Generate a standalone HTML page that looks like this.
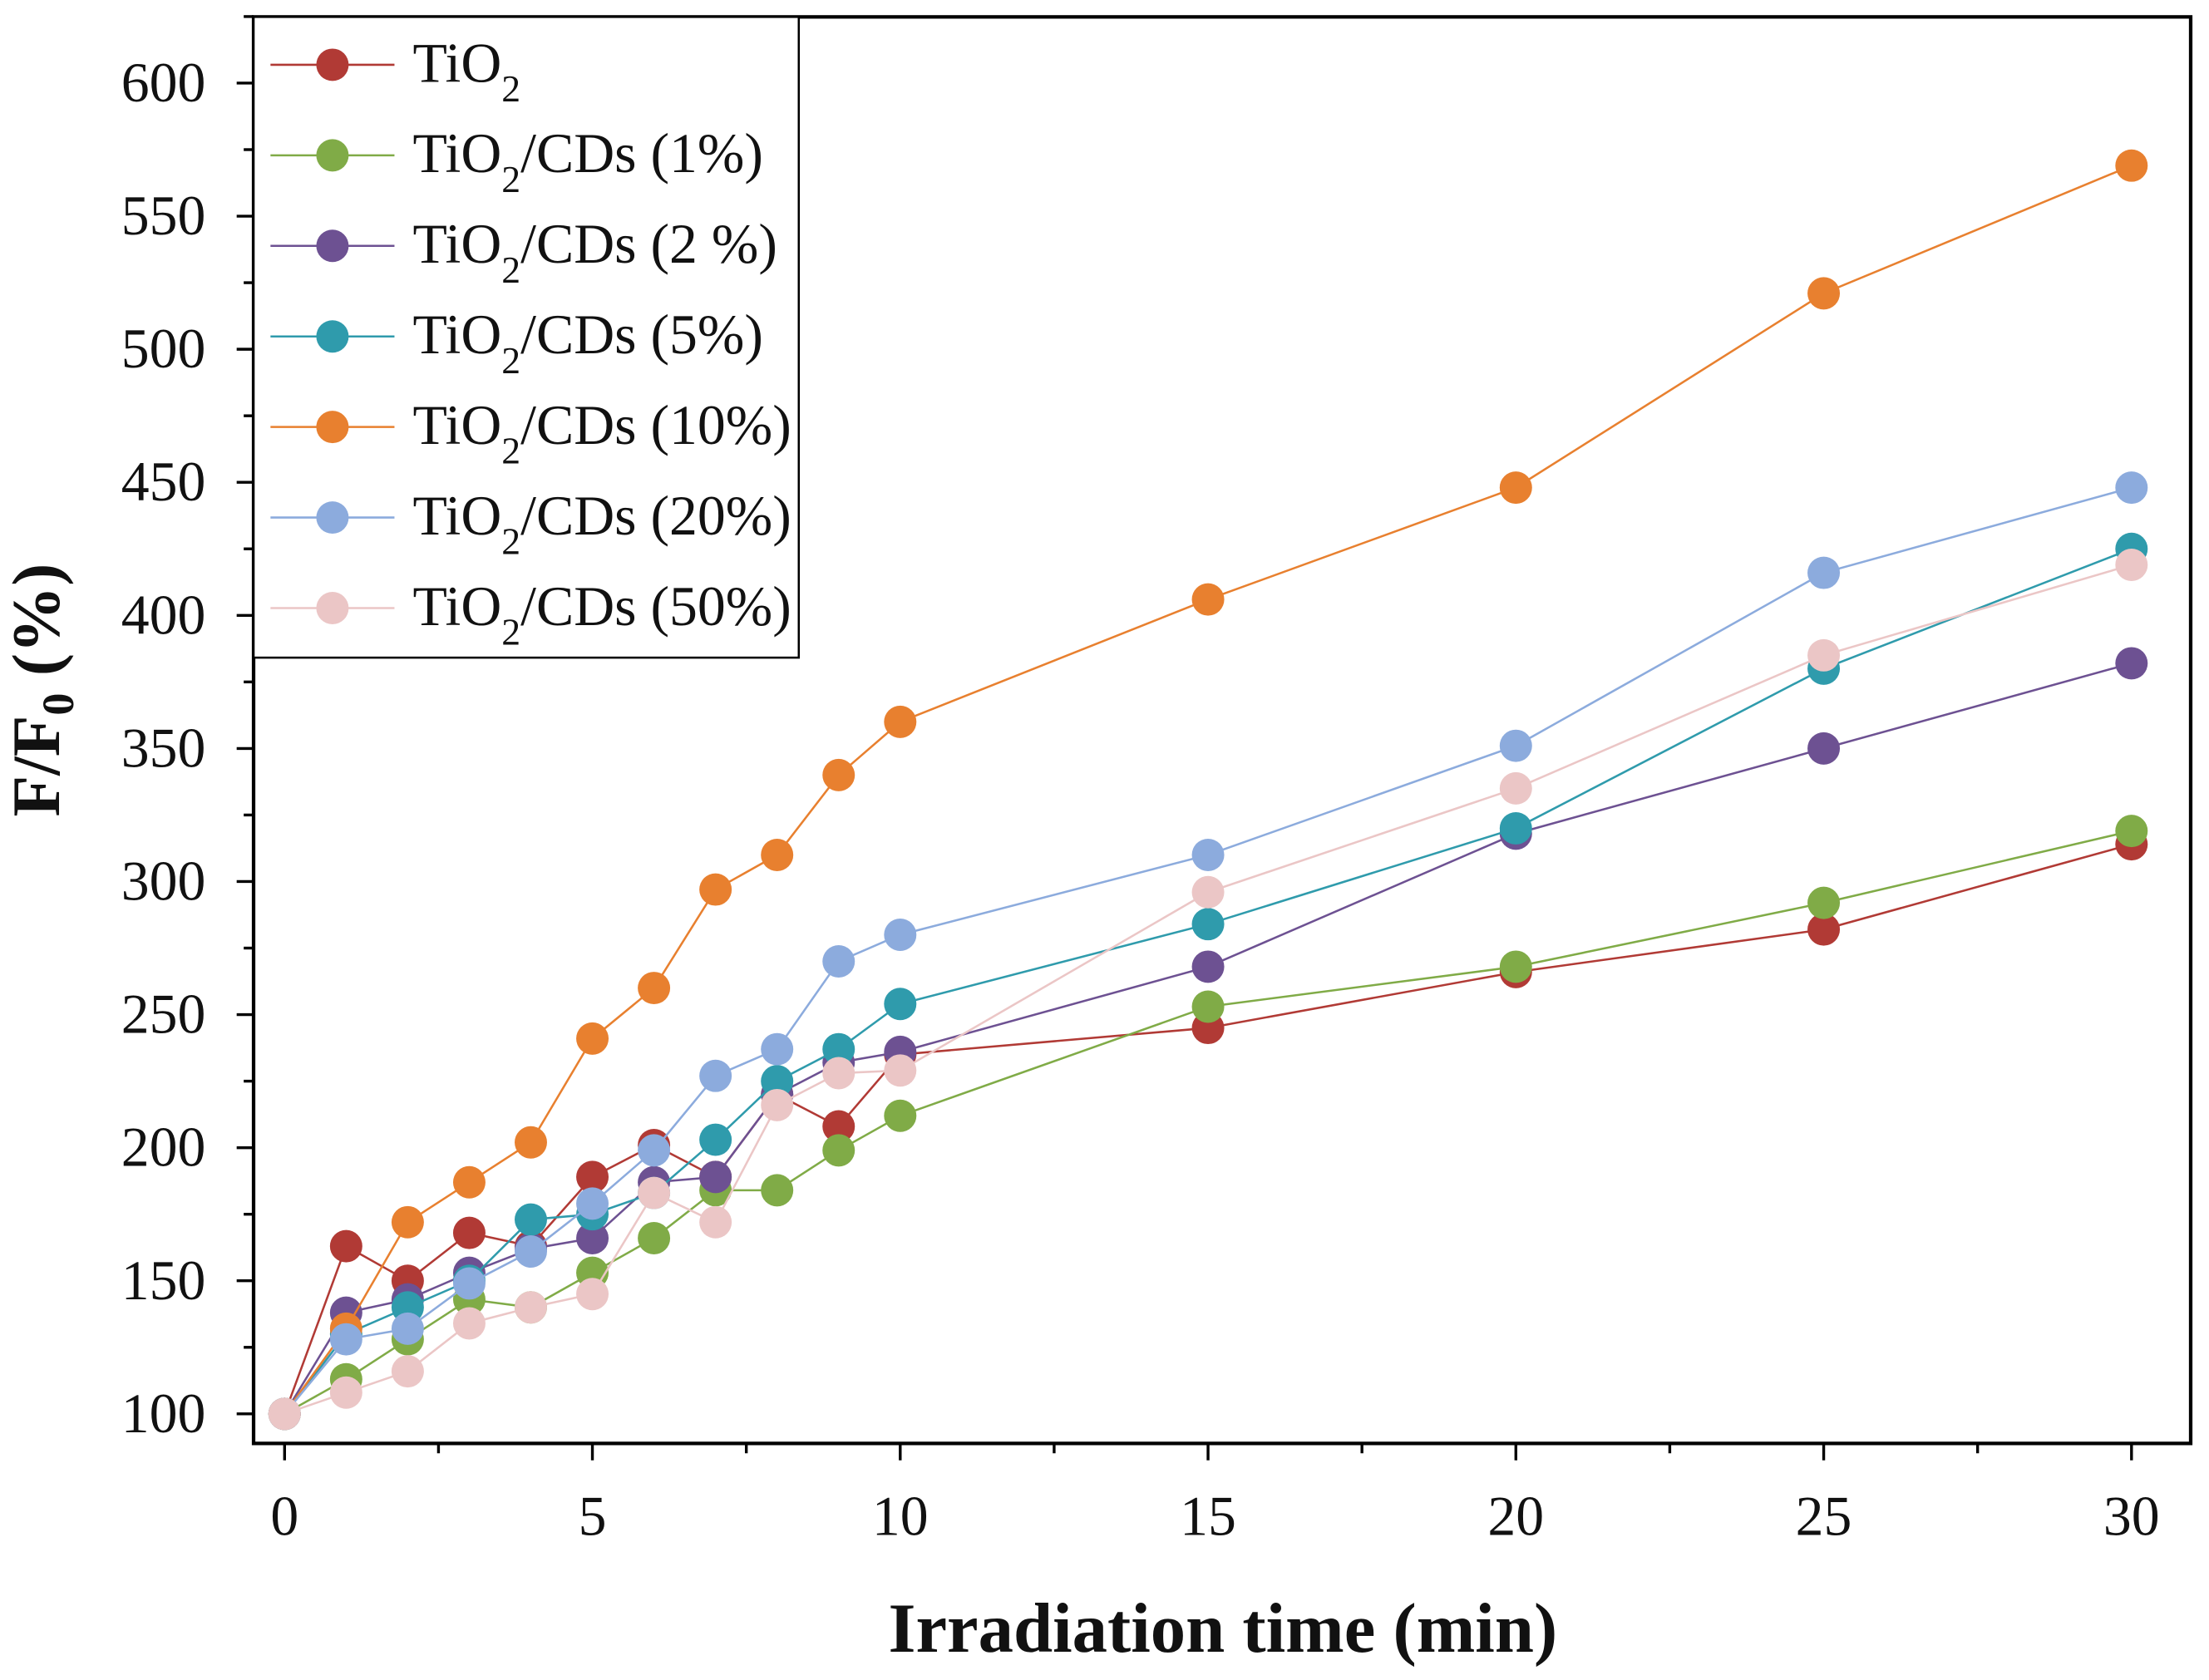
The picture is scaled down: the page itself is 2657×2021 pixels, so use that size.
<!DOCTYPE html>
<html><head><meta charset="utf-8"><style>
html,body{margin:0;padding:0;background:#fff;}
svg{display:block;}
text{font-family:"Liberation Serif",serif;fill:#111;}
</style></head><body>
<svg id="chart" width="2657" height="2021" viewBox="0 0 1568 1193" preserveAspectRatio="none" xmlns="http://www.w3.org/2000/svg"></svg>
<script>
const times = [0,1,2,3,4,5,6,7,8,9,10,15,20,25,30];
const seriesNames = ["TiO2","1%","2 %","5%","10%","20%","50%"];
const tio2 = [100,163,150,168,163,189,201,189,220,208,235,245,266,282,314];
const cd1 = [100,113,128,143,140,153,166,184,184,199,212,253,268,292,319];
const cd2 = [100,138,143,153,162,166,187,189,220,232,236,268,318,350,382];
const cd5 = [100,130,140,150,173,175,183,203,225,237,254,284,320,380,425];
const cd10 = [100,132,172,187,202,241,260,297,310,340,360,406,448,521,569];
const cd20 = [100,128,132,149,161,179,199,227,237,270,280,310,351,416,448];
const cd50 = [100,108,116,134,140,145,183,172,216,228,229,296,335,385,419];
const xTicks = [0,5,10,15,20,25,30];
const yTicks = [100,150,200,250,300,350,400,450,500,550,600];

const svg = document.getElementById('chart');
const NS = 'http://www.w3.org/2000/svg';
const L=180,R=1555,T=12,B=1025;
const xs = v => 202 + v*(1513-202)/30;
const ys = v => 1004 - (v-100)*(1004-59)/500;
function mk(tag, attrs, parent){const e=document.createElementNS(NS,tag);for(const k in attrs)e.setAttribute(k,attrs[k]);(parent||svg).appendChild(e);return e;}

const frame = mk('rect',{x:L,y:T,width:R-L,height:B-T,fill:'none',stroke:'#000','stroke-width':2.5});



for(let v=0; v<=31.5; v+=2.5){
  const major = v%5===0;
  const t = mk('line',{x1:xs(v),x2:xs(v),y1:B,y2:B+(major?12:7),stroke:'#000','stroke-width':2});
  
  
}
xTicks.forEach(v=>{
  const t=mk('text',{x:xs(v),y:1090,'text-anchor':'middle','font-size':40});
  t.textContent=v;
  
  
});
for(let v=100; v<=625; v+=25){
  const major = v%50===0;
  const t = mk('line',{x1:L-(major?12:7),x2:L,y1:ys(v),y2:ys(v),stroke:'#000','stroke-width':2});
  
  
}
yTicks.forEach(v=>{
  const t=mk('text',{x:146,y:ys(v)+13,'text-anchor':'end','font-size':40});
  t.textContent=v;
  
  
});
const xt=mk('text',{x:868,y:1173,'text-anchor':'middle','font-size':50,'font-weight':'bold'});
xt.textContent='Irradiation time (min)';


const yt=mk('text',{transform:'translate(50,490) rotate(-90)','text-anchor':'middle','font-size':48,'font-weight':'bold'});
yt.setAttribute('transform','translate(42,490) rotate(-90)');
yt.innerHTML='F/F<tspan dy="10" font-size="32">0</tspan><tspan dy="-10"> (%)</tspan>';



const data=[tio2,cd1,cd2,cd5,cd10,cd20,cd50];
const colors=['#b13a35','#80ab47','#6d5192','#2f9bac','#e8802f','#8cabdd','#ebc6c6'];
data.forEach((arr,i)=>{
  const g=mk('g',{});
  
  
  const p=mk('polyline',{points:arr.map((v,j)=>xs(times[j])+','+ys(v)).join(' '),fill:'none',stroke:colors[i],'stroke-width':1.5},g);
  
  
  arr.forEach((v,j)=>{
    const c=mk('circle',{cx:xs(times[j]),cy:ys(v),r:11.5,fill:colors[i]},g);
    
    
  });
});

const lg=mk('g',{});


const lb=mk('rect',{x:180,y:12,width:387,height:455,fill:'#fff',stroke:'#000','stroke-width':1.5},lg);


const labels=['','(1%)','(2 %)','(5%)','(10%)','(20%)','(50%)'];
labels.forEach((lab,i)=>{
  const y=46+i*64.3;
  const e=mk('g',{},lg);
  
  
  mk('line',{x1:192,x2:280,y1:y,y2:y,stroke:colors[i],'stroke-width':1.5},e);
  mk('circle',{cx:236,cy:y,r:11.5,fill:colors[i]},e);
  const t=mk('text',{x:293,y:y+12,'font-size':40},e);
  t.innerHTML='TiO<tspan dy="14" font-size="27">2</tspan>'+(i?'<tspan dy="-14">/CDs '+lab+'</tspan>':'');
});
</script>
</body></html>
